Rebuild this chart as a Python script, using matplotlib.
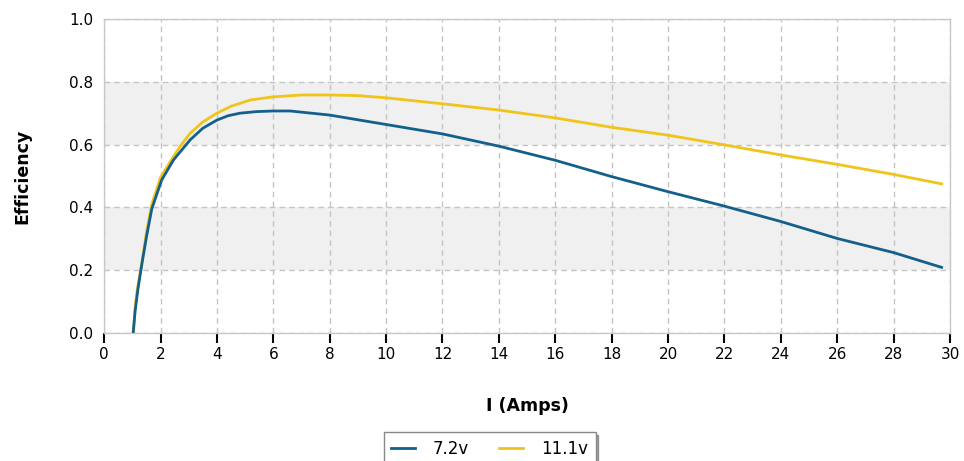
import numpy as np
import matplotlib.pyplot as plt
from matplotlib.patches import Rectangle

# 전류(A) 대비 효율 데이터 - 그림에서 읽은 값
amps_72 = [1.03, 1.1, 1.2, 1.34, 1.51, 1.69, 2.04, 2.46, 3.05, 3.5, 4.0, 4.4, 4.82, 5.4, 6.0, 6.6,
           8.0, 10.0, 12.0, 14.0, 16.0, 18.0, 20.0, 22.0, 24.0, 26.0, 28.0, 29.7]
eff_72 = [0.0, 0.07, 0.14, 0.22, 0.31, 0.395, 0.487, 0.551, 0.615, 0.652, 0.678, 0.692, 0.70, 0.705,
          0.707, 0.707, 0.694, 0.664, 0.634, 0.595, 0.55, 0.498, 0.45, 0.404, 0.355, 0.301, 0.256, 0.209]

amps_111 = [1.04, 1.1, 1.16, 1.34, 1.51, 1.69, 2.0, 2.34, 2.7, 3.05, 3.5, 4.0, 4.5, 5.18, 6.0, 7.0,
            8.0, 9.0, 10.0, 12.0, 14.0, 16.0, 18.0, 20.0, 22.0, 24.0, 26.0, 28.0, 29.7]
eff_111 = [0.0, 0.08, 0.13, 0.225, 0.325, 0.41, 0.495, 0.545, 0.595, 0.636, 0.672, 0.70, 0.722,
           0.742, 0.752, 0.758, 0.758, 0.756, 0.749, 0.73, 0.71, 0.685, 0.655, 0.63, 0.599, 0.567,
           0.537, 0.505, 0.475]

series_labels = ["7.2v", "11.1v"]
series_colors = ["#13608c", "#f0c419"]

fig = plt.figure(figsize=(9.64, 4.61), dpi=100)
ax = fig.add_axes([0.108, 0.2777, 0.8775, 0.6811])

# 교차 배경 밴드
for y0 in (0.2, 0.6):
    ax.add_patch(Rectangle((0, y0), 30, 0.2, facecolor="#f0f0f0", edgecolor="none", zorder=0))

ax.plot(amps_72, eff_72, color=series_colors[0], linewidth=2.0, label=series_labels[0], zorder=3)
ax.plot(amps_111, eff_111, color=series_colors[1], linewidth=2.0, label=series_labels[1], zorder=2)

ax.set_xlim(0, 30)
ax.set_ylim(0, 1.0)
ax.set_xticks(np.arange(0, 31, 2))
ax.set_yticks(np.arange(0, 1.01, 0.2))
ax.set_yticklabels([f"{v:.1f}" for v in np.arange(0, 1.01, 0.2)])

ax.grid(True, color="#c4c4c4", linestyle=(0, (4, 3)), linewidth=1.0, zorder=1)
ax.set_axisbelow(True)

for s in ax.spines.values():
    s.set_color("#c8c8c8")
    s.set_linewidth(1.0)

ax.tick_params(axis="x", direction="out", length=7, width=1.5, color="black",
               labelsize=11, pad=3)
ax.tick_params(axis="y", length=0, labelsize=11, pad=8)

ax.set_xlabel("I (Amps)", fontsize=12.5, fontweight="bold", labelpad=25)
ax.set_ylabel("Efficiency", fontsize=12.5, fontweight="bold", labelpad=27)

fig.legend(loc="upper center", bbox_to_anchor=(0.508, 0.08), ncol=2, fontsize=12,
           handlelength=1.4, handletextpad=1.1, columnspacing=1.8, frameon=True,
           fancybox=False, shadow=True, edgecolor="#888888", borderpad=0.45)

fig.savefig("out.png", dpi=100)
